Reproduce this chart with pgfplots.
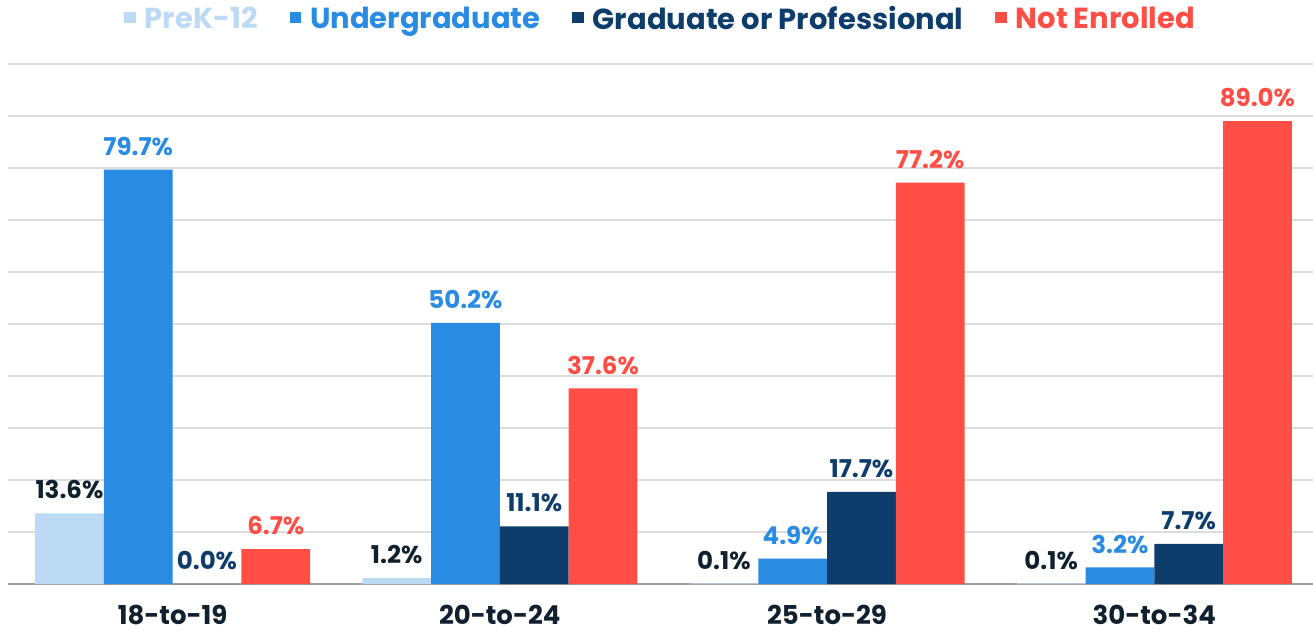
\documentclass[border=0pt]{standalone}
\usepackage{pgfplots}
\pgfplotsset{compat=1.18}
\usepackage{fontspec}
\setmainfont{Poppins}
\definecolor{cPre}{HTML}{BDDAF5}
\definecolor{cUnd}{HTML}{2A8BE3}
\definecolor{cGrd}{HTML}{0E3D6B}
\definecolor{cNot}{HTML}{FF4E45}
\definecolor{cDark}{HTML}{10202F}
\definecolor{cGrid}{HTML}{DDDDDD}
\begin{document}
\begin{tikzpicture}
\begin{axis}[
  scale only axis,
  width=1305pt, height=520pt,
  xmin=-0.503, xmax=3.485,
  ymin=0, ymax=100,
  ybar=0pt, bar width=68.75pt,
  axis x line*=bottom,
  axis y line*=left,
  y axis line style={draw=none},
  x axis line style={color=black!38, line width=1.2pt},
  ytick={0,10,...,100},
  yticklabels={},
  ytick style={draw=none},
  ymajorgrids,
  grid style={cGrid, line width=1.3pt},
  xtick={0,1,2,3},
  xticklabels={18-to-19,20-to-24,25-to-29,30-to-34},
  xtick style={draw=none},
  xticklabel style={font=\fontsize{26}{31}\selectfont\bfseries, text=cDark, yshift=-13pt},
  point meta=explicit symbolic,
  nodes near coords,
  every node near coord/.append style={font=\fontsize{24.5}{29}\selectfont\bfseries, yshift=10.5pt},
  legend columns=4,
  legend style={draw=none, fill=none, at={(0.5,1)}, anchor=south, yshift=29pt,
    font=\fontsize{29}{33}\selectfont\bfseries,
    /tikz/every even column/.append style={column sep=30pt}},
  legend image code/.code={\fill[#1] (0pt,-5pt) rectangle (11.5pt,6.5pt);},
  clip=false,
]
\addplot[fill=cPre, draw=none, every node near coord/.append style={text=cDark}]
  coordinates {(0,13.6)[13.6\%] (1,1.2)[1.2\%] (2,0.1)[0.1\%] (3,0.1)[0.1\%]};
\addlegendentry{\hspace{7pt}\textcolor{cPre}{PreK-12}}
\addplot[fill=cUnd, draw=none, every node near coord/.append style={text=cUnd}]
  coordinates {(0,79.7)[79.7\%] (1,50.2)[50.2\%] (2,4.9)[4.9\%] (3,3.2)[3.2\%]};
\addlegendentry{\hspace{7pt}\textcolor{cUnd}{Undergraduate}}
\addplot[fill=cGrd, draw=none, every node near coord/.append style={text=cGrd}]
  coordinates {(0,0.0)[0.0\%] (1,11.1)[11.1\%] (2,17.7)[17.7\%] (3,7.7)[7.7\%]};
\addlegendentry{\hspace{7pt}\textcolor{cGrd}{Graduate or Professional}}
\addplot[fill=cNot, draw=none, every node near coord/.append style={text=cNot}]
  coordinates {(0,6.7)[6.7\%] (1,37.6)[37.6\%] (2,77.2)[77.2\%] (3,89.0)[89.0\%]};
\addlegendentry{\hspace{7pt}\textcolor{cNot}{Not Enrolled}}
\end{axis}
\pgfresetboundingbox
\path[use as bounding box] (-8pt,-51pt) rectangle (1305pt,584pt);
\end{tikzpicture}
\end{document}
